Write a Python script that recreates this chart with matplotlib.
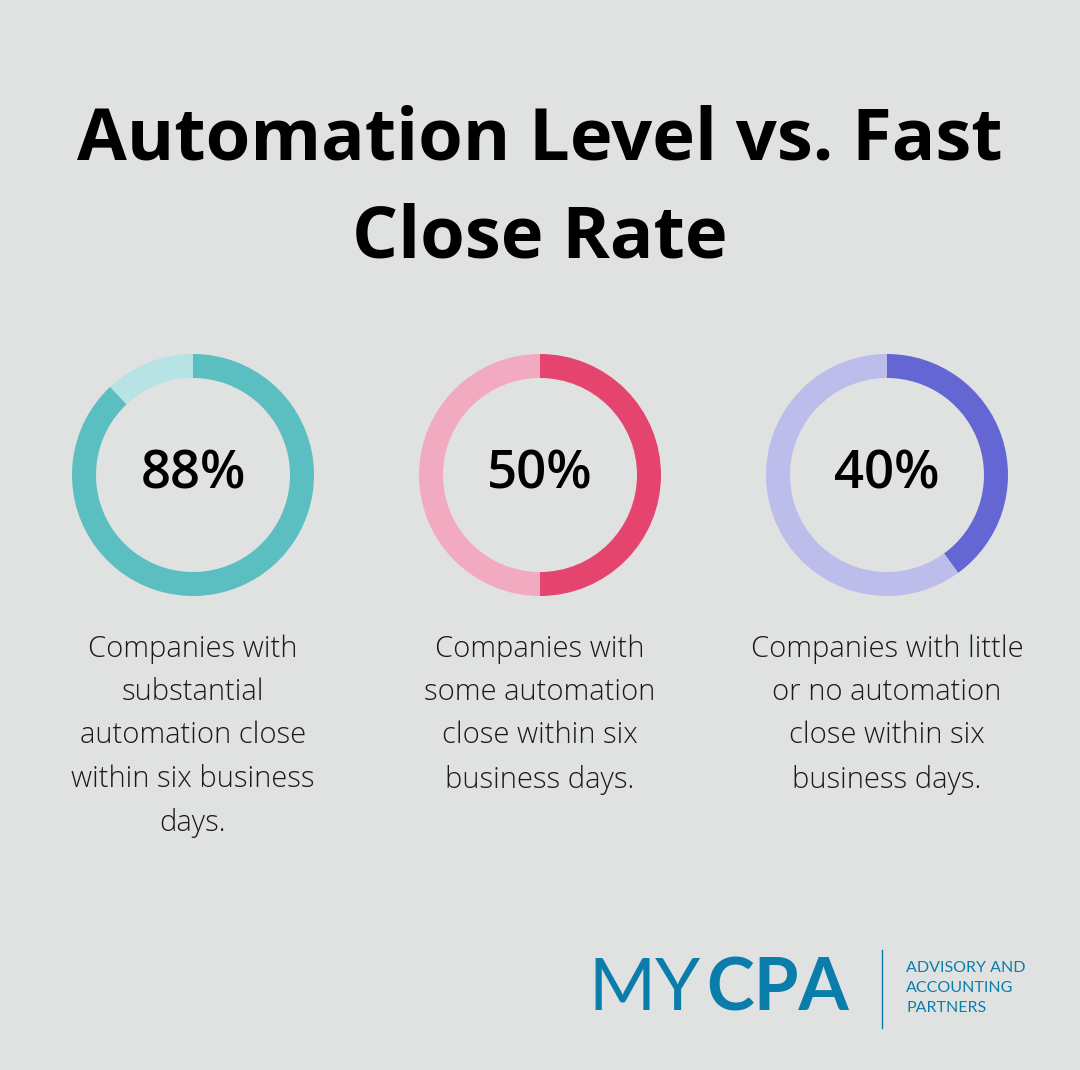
import matplotlib.pyplot as plt

percents = [88, 50, 40]
labels = ["88%", "50%", "40%"]
captions = [
    "Companies with\nsubstantial\nautomation close\nwithin six business\ndays.",
    "Companies with\nsome automation\nclose within six\nbusiness days.",
    "Companies with little\nor no automation\nclose within six\nbusiness days.",
]
dark = ["#5bbec0", "#e5446f", "#6466d4"]
light = ["#b8e3e4", "#f2aac0", "#bcbdea"]
centers_x = [193, 540, 887]

W, H = 1080, 1070
bg = "#e0e2e1"
fig = plt.figure(figsize=(W / 100, H / 100), dpi=100, facecolor=bg)

fig.text(0.5, 1 - 140 / H, "Automation Level vs. Fast", ha="center", va="center",
         fontsize=52, fontweight="bold", family="Open Sans", color="black")
fig.text(0.5, 1 - 238 / H, "Close Rate", ha="center", va="center",
         fontsize=52, fontweight="bold", family="Open Sans", color="black")

r = 121
cy = 475
for p, lab, cap, d, l, cx in zip(percents, labels, captions, dark, light, centers_x):
    ax = fig.add_axes([(cx - r) / W, (H - cy - r) / H, 2 * r / W, 2 * r / H])
    ax.pie([p, 100 - p], colors=[d, l], startangle=90, counterclock=False,
           radius=1, wedgeprops=dict(width=24 / r, linewidth=0))
    ax.set_xlim(-1, 1)
    ax.set_ylim(-1, 1)
    ax.set_aspect("equal")
    ax.text(0, 0, lab, ha="center", va="center", fontsize=38,
            family="Open Sans", fontweight="semibold", color="black")
    fig.text(cx / W, 1 - 634 / H, cap, ha="center", va="top", fontsize=21,
             family="Open Sans", fontweight="light", color="#1a1a1a",
             linespacing=1.62)

blue = "#0b7dab"
fig.text(588 / W, 1 - 990 / H, "MY", ha="left", va="center", fontsize=52,
         family="Lato", fontweight="normal", color=blue)
fig.text(706 / W, 1 - 990 / H, "CPA", ha="left", va="center", fontsize=52,
         family="Lato", fontweight="bold", color=blue)
fig.add_artist(plt.Line2D([882 / W, 882 / W], [1 - 950 / H, 1 - 1028 / H],
                          color=blue, linewidth=1))
fig.text(906 / W, 1 - 988 / H, "ADVISORY AND\nACCOUNTING\nPARTNERS", ha="left",
         va="center", fontsize=11.5, family="Lato", color=blue, linespacing=1.55)

fig.savefig("out.png", dpi=100, facecolor=bg)
